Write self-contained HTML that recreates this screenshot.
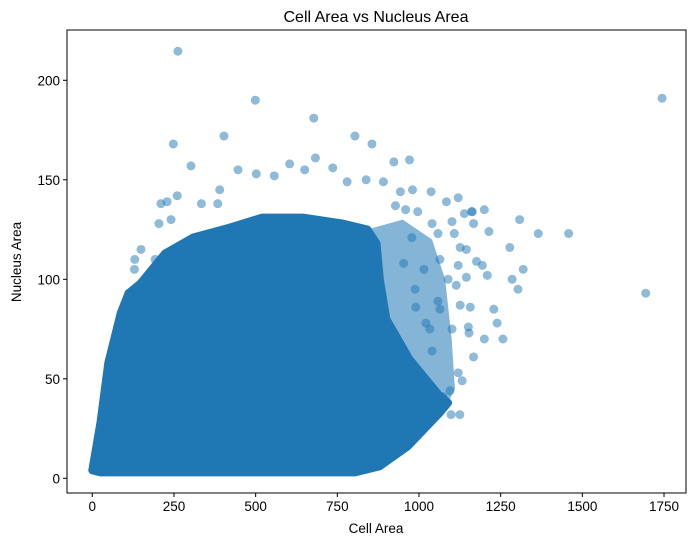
<!DOCTYPE html>
<html><head><meta charset="utf-8"><style>
html,body{margin:0;padding:0;background:#fff}
svg{display:block;font-family:"Liberation Sans","DejaVu Sans",sans-serif}
</style></head><body>
<svg id="chart" width="695" height="545" viewBox="0 0 695 545">
<rect x="0" y="0" width="695" height="545" fill="#fff"/>
<text x="376" y="22" text-anchor="middle" font-size="16" fill="#000">Cell Area vs Nucleus Area</text>
<g id="marks"></g>
<g id="axes"></g>
<text x="376" y="533" text-anchor="middle" font-size="13.5" fill="#000">Cell Area</text>
<text transform="translate(21,262) rotate(-90)" text-anchor="middle" font-size="13.5" fill="#000">Nucleus Area</text>
</svg>
<script>
const xTicks = [0, 250, 500, 750, 1000, 1250, 1500, 1750];
const yTicks = [0, 50, 100, 150, 200];
// dense core region boundary [cellArea, nucleusArea]
const denseX = [0, 25, 49, 87, 111, 148, 223, 309, 421, 520, 644, 767, 842, 870, 880, 900, 970, 1060, 1089, 1064, 965, 879, 804, 25];
const denseY = [4, 28, 58, 83, 93, 98, 113, 121, 126, 131, 131, 128, 125, 118, 100, 80, 60, 42, 38, 33, 16, 6, 3, 3];
// semi-dense halo region boundary
const haloX = [842, 950, 1040, 1080, 1100, 1110, 1089, 1000, 900];
const haloY = [125, 130, 120, 100, 70, 45, 38, 55, 80];
// individual points
const ptX = [262, 499, 1744, 1694, 678, 403, 248, 804, 856, 923, 971, 683, 302, 1458, 1365, 1308, 1278, 1319, 1303, 1285, 1229, 1257, 1098, 1125, 1239, 1200, 1214, 1200, 1163, 129, 1157, 1151,
 210, 229, 260, 334, 384, 390, 446, 502, 557, 604, 650, 736, 780, 838, 891, 943, 980, 1037, 1084, 1120, 1161, 1139, 1167, 1101, 1108, 1058, 1126, 1145, 1176, 1194, 1209, 1145, 1120, 1064, 1089, 1114, 1126, 1101, 1153, 1167, 1120, 1132, 1095, 1073, 1040, 1021, 990, 1058, 1064, 1033, 988, 1015, 953, 978, 1040, 996, 959, 928, 204, 241, 130, 149, 192];
const ptY = [214.6, 190, 191, 93, 181, 172, 168, 172, 168, 159, 160, 161, 157, 123, 123, 130, 116, 105, 95, 100, 85, 70, 32, 32, 78, 70, 124, 135, 134, 105, 86, 76,
 138, 139, 142, 138, 138, 145, 155, 153, 152, 158, 155, 156, 149, 150, 149, 144, 145, 144, 139, 141, 134, 133, 128, 129, 123, 123, 116, 115, 109, 107, 102, 101, 107, 110, 100, 97, 87, 75, 73, 61, 53, 49, 44, 41, 64, 78, 86, 89, 85, 75, 95, 105, 108, 121, 128, 134, 135, 137, 128, 130, 110, 115, 110];

const L = 67, R = 686, T = 30, B = 493;
const sx = v => 92.3 + v * 0.3267;
const sy = v => 478.3 - v * 1.99;
const NS = 'http://www.w3.org/2000/svg';
const marks = document.getElementById('marks');
const axes = document.getElementById('axes');
const C = '#1f77b4';

const clip = document.createElementNS(NS, 'clipPath');
clip.setAttribute('id', 'pc');
const cr = document.createElementNS(NS, 'rect');
cr.setAttribute('x', L); cr.setAttribute('y', T); cr.setAttribute('width', R - L); cr.setAttribute('height', B - T);
clip.appendChild(cr);
document.getElementById('chart').appendChild(clip);
marks.setAttribute('clip-path', 'url(#pc)');

function poly(xs, ys, op, sw, name) {
  const p = document.createElementNS(NS, 'polygon');
  p.setAttribute('points', xs.map((x, i) => sx(x) + ',' + sy(ys[i])).join(' '));
  p.setAttribute('fill', C);
  p.setAttribute('fill-opacity', op);
  p.setAttribute('stroke', C);
  p.setAttribute('stroke-opacity', op);
  p.setAttribute('stroke-width', sw);
  p.setAttribute('stroke-linejoin', 'round');
  
  
  marks.appendChild(p);
}
poly(haloX, haloY, 0.55, 0, 'halo-point-cloud');
poly(denseX, denseY, 1, 8, 'dense-point-cloud');

ptX.forEach((x, i) => {
  const c = document.createElementNS(NS, 'circle');
  c.setAttribute('cx', sx(x));
  c.setAttribute('cy', sy(ptY[i]));
  c.setAttribute('r', 4.5);
  c.setAttribute('fill', C);
  c.setAttribute('fill-opacity', 0.5);
  
  
  marks.appendChild(c);
});

const frame = document.createElementNS(NS, 'rect');
frame.setAttribute('x', L); frame.setAttribute('y', T);
frame.setAttribute('width', R - L); frame.setAttribute('height', B - T);
frame.setAttribute('fill', 'none'); frame.setAttribute('stroke', '#000'); frame.setAttribute('stroke-width', '1');


axes.appendChild(frame);

xTicks.forEach(v => {
  const l = document.createElementNS(NS, 'line');
  l.setAttribute('x1', sx(v)); l.setAttribute('x2', sx(v));
  l.setAttribute('y1', B); l.setAttribute('y2', B + 4);
  l.setAttribute('stroke', '#000');
  
  
  axes.appendChild(l);
  const t = document.createElementNS(NS, 'text');
  t.setAttribute('x', sx(v)); t.setAttribute('y', B + 18);
  t.setAttribute('text-anchor', 'middle'); t.setAttribute('font-size', '13.5');
  t.textContent = v;
  
  
  axes.appendChild(t);
});
yTicks.forEach(v => {
  const l = document.createElementNS(NS, 'line');
  l.setAttribute('x1', L - 4); l.setAttribute('x2', L);
  l.setAttribute('y1', sy(v)); l.setAttribute('y2', sy(v));
  l.setAttribute('stroke', '#000');
  
  
  axes.appendChild(l);
  const t = document.createElementNS(NS, 'text');
  t.setAttribute('x', L - 7); t.setAttribute('y', sy(v) + 5);
  t.setAttribute('text-anchor', 'end'); t.setAttribute('font-size', '13.5');
  t.textContent = v;
  
  
  axes.appendChild(t);
});
</script>
</body></html>
